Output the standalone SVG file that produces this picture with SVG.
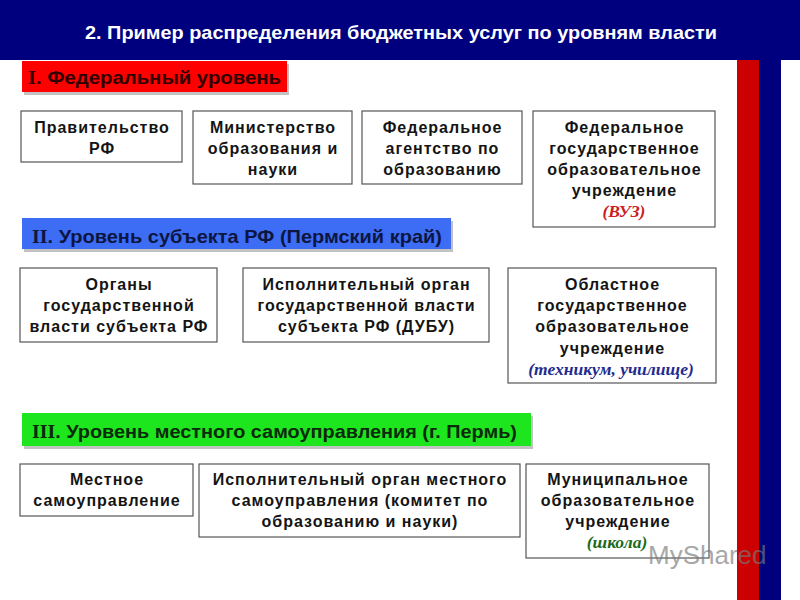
<svg xmlns="http://www.w3.org/2000/svg" width="800" height="600" viewBox="0 0 800 600">
  <style>
    .box { fill: #ffffff; stroke: #555555; stroke-width: 1.2; }
    .t { font-family: "Liberation Sans", Arial, sans-serif; font-weight: bold; font-size: 16px; letter-spacing: 1px; fill: #141414; text-anchor: middle; }
    .it { font-family: "Liberation Serif", "Times New Roman", serif; font-weight: bold; font-style: italic; font-size: 17.5px; text-anchor: middle; }
    .sec { font-family: "Liberation Sans", Arial, sans-serif; font-weight: bold; font-size: 18.5px; }
    .rom { font-family: "Liberation Serif", "Times New Roman", serif; }
    .shadow { fill: #9a9a9a; opacity: 0.6; }
  </style>

  <!-- background -->
  <rect x="0" y="0" width="800" height="600" fill="#ffffff"/>

  <!-- header band and side stripes -->
  <g id="header">
    <rect x="0" y="0" width="800" height="60" fill="#00007f"/>
    <rect x="737" y="60" width="22" height="540" fill="#cc0000"/>
    <rect x="759" y="0" width="22" height="600" fill="#00007f"/>
    <text x="401" y="38.5" font-family="'Liberation Sans', Arial, sans-serif" font-weight="bold" font-size="18.5" fill="#ffffff" text-anchor="middle" textLength="632" lengthAdjust="spacingAndGlyphs">2. Пример распределения бюджетных услуг по уровням власти</text>
  </g>

  <!-- section headers -->
  <g id="section-1">
    <rect class="shadow" x="24" y="64" width="265" height="31"/>
    <rect x="22" y="61" width="265" height="31" fill="#ff0000"/>
    <text class="sec" x="28" y="84" fill="#300000" textLength="253" lengthAdjust="spacingAndGlyphs"><tspan class="rom">I</tspan>. Федеральный уровень</text>
  </g>
  <g id="section-2">
    <rect class="shadow" x="24" y="221" width="429" height="31"/>
    <rect x="22" y="218" width="429" height="31" fill="#3d6cf5"/>
    <text class="sec" x="32" y="243" fill="#0d1640" textLength="410" lengthAdjust="spacingAndGlyphs"><tspan class="rom">II</tspan>. Уровень субъекта РФ (Пермский край)</text>
  </g>
  <g id="section-3">
    <rect class="shadow" x="24" y="416" width="509" height="33"/>
    <rect x="22" y="413" width="509" height="33" fill="#1ee61e"/>
    <text class="sec" x="32" y="438" fill="#0a2a0a" textLength="485" lengthAdjust="spacingAndGlyphs"><tspan class="rom">III</tspan>. Уровень местного самоуправления (г. Пермь)</text>
  </g>

  <!-- row 1: federal -->
  <g id="node-pravitelstvo">
    <rect class="box" x="21" y="111" width="161" height="51"/>
    <text class="t" x="102" y="132.5">Правительство</text>
    <text class="t" x="102" y="153.5">РФ</text>
  </g>
  <g id="node-ministerstvo">
    <rect class="box" x="193" y="111" width="159" height="73"/>
    <text class="t" x="273" y="132.5">Министерство</text>
    <text class="t" x="273" y="153.5">образования и</text>
    <text class="t" x="273" y="174.5">науки</text>
  </g>
  <g id="node-agentstvo">
    <rect class="box" x="362" y="111" width="160" height="73"/>
    <text class="t" x="442.5" y="132.5">Федеральное</text>
    <text class="t" x="442.5" y="153.5">агентство по</text>
    <text class="t" x="442.5" y="174.5">образованию</text>
  </g>
  <g id="node-vuz">
    <rect class="box" x="533" y="111" width="182" height="116"/>
    <text class="t" x="624.5" y="132.5">Федеральное</text>
    <text class="t" x="624.5" y="153.5">государственное</text>
    <text class="t" x="624.5" y="174.5">образовательное</text>
    <text class="t" x="624.5" y="196">учреждение</text>
    <text class="it" x="624" y="217" fill="#cc2020">(ВУЗ)</text>
  </g>

  <!-- row 2: subject -->
  <g id="node-organy-subekta">
    <rect class="box" x="20" y="268" width="197" height="74"/>
    <text class="t" x="119" y="289.5">Органы</text>
    <text class="t" x="119" y="310.5">государственной</text>
    <text class="t" x="119" y="332">власти субъекта РФ</text>
  </g>
  <g id="node-dubu">
    <rect class="box" x="243" y="268" width="246" height="74"/>
    <text class="t" x="366.5" y="289.5">Исполнительный орган</text>
    <text class="t" x="366.5" y="310.5">государственной власти</text>
    <text class="t" x="366.5" y="332">субъекта РФ (ДУБУ)</text>
  </g>
  <g id="node-tekhnikum">
    <rect class="box" x="508" y="268" width="208" height="115"/>
    <text class="t" x="612.5" y="289.5">Областное</text>
    <text class="t" x="612.5" y="310.5">государственное</text>
    <text class="t" x="612.5" y="332">образовательное</text>
    <text class="t" x="612.5" y="353.5">учреждение</text>
    <text class="it" x="611" y="375" fill="#1f2c8f">(техникум, училище)</text>
  </g>

  <!-- row 3: local -->
  <g id="node-mestnoe">
    <rect class="box" x="20" y="464" width="173" height="52"/>
    <text class="t" x="107" y="485">Местное</text>
    <text class="t" x="107" y="506">самоуправление</text>
  </g>
  <g id="node-komitet">
    <rect class="box" x="199" y="464" width="321" height="73"/>
    <text class="t" x="360" y="485">Исполнительный орган местного</text>
    <text class="t" x="360" y="506">самоуправления (комитет по</text>
    <text class="t" x="360" y="527">образованию и науки)</text>
  </g>
  <g id="node-shkola">
    <rect class="box" x="526" y="464" width="183" height="94"/>
    <text class="t" x="618" y="485">Муниципальное</text>
    <text class="t" x="618" y="506">образовательное</text>
    <text class="t" x="618" y="527">учреждение</text>
    <text class="it" x="617" y="548" fill="#1a6a1a">(школа)</text>
  </g>

  <g id="connectors"/>

  <!-- watermark -->
  <text x="648" y="564" font-family="'Liberation Sans', Arial, sans-serif" font-size="26" fill="#7a7a7a" opacity="0.65">MyShared</text>
</svg>
